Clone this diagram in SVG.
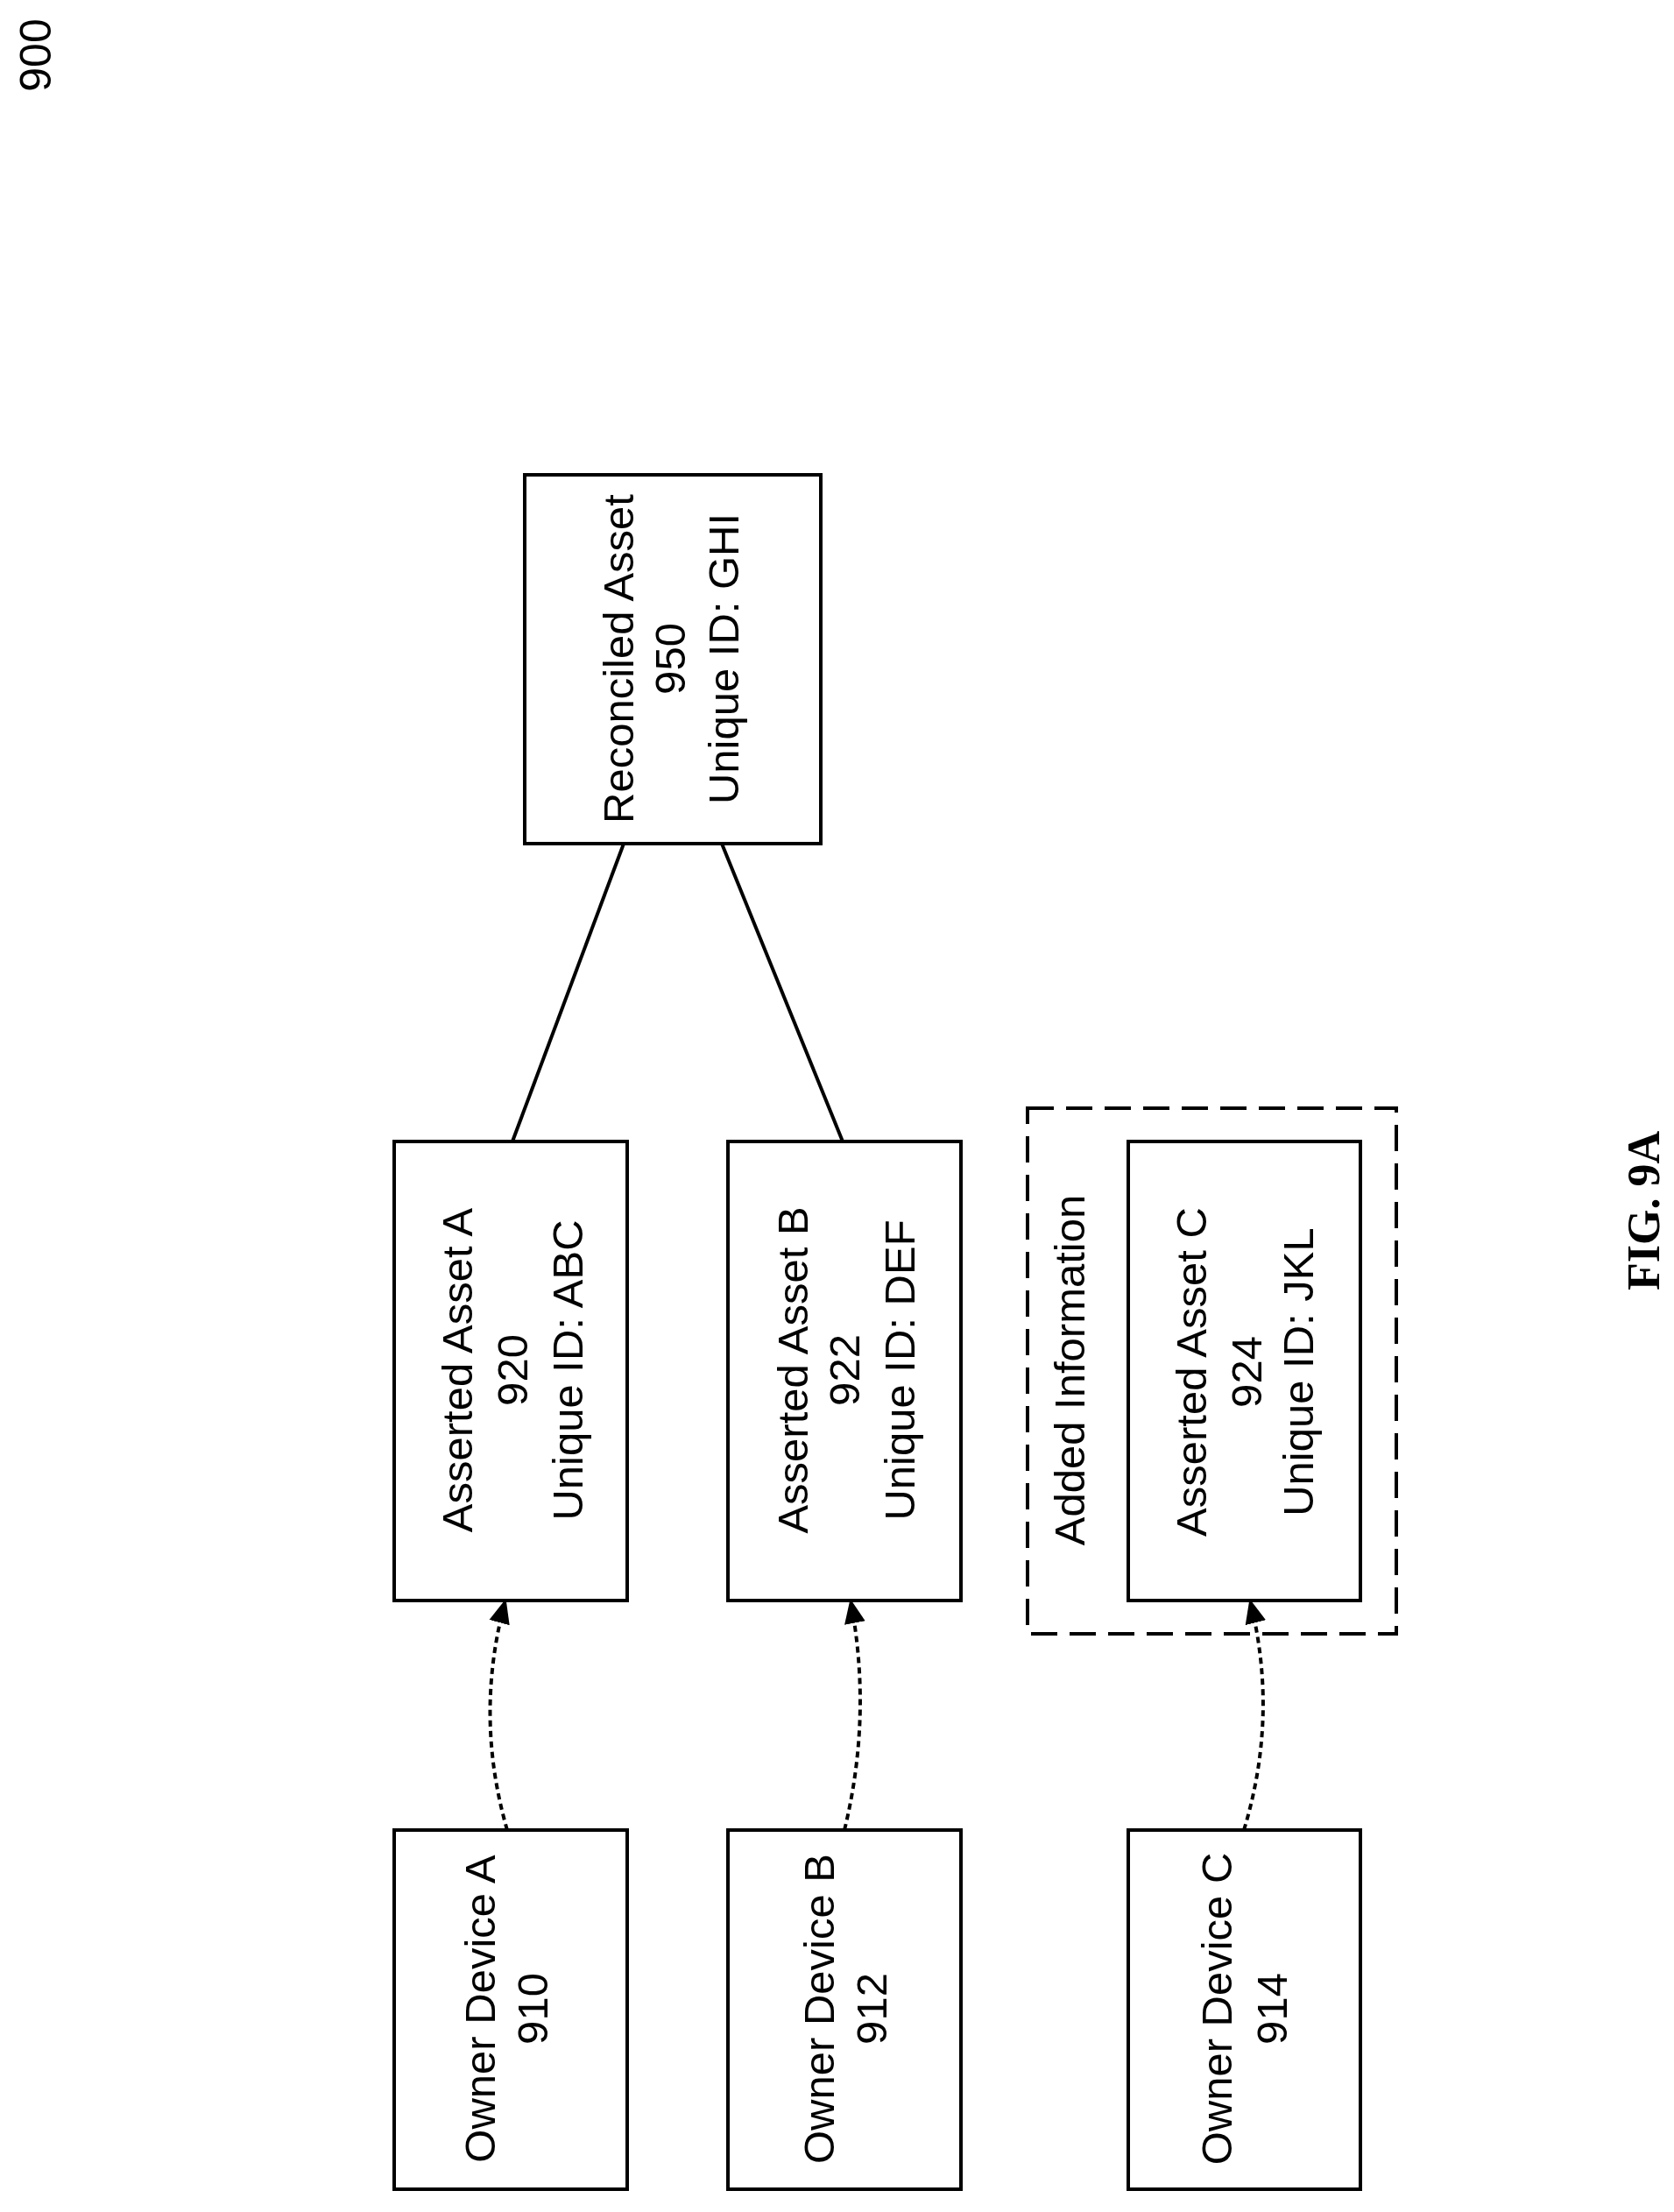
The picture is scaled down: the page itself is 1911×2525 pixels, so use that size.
<svg xmlns="http://www.w3.org/2000/svg" width="1911" height="2525" viewBox="0 0 1911 2525">
<style>
.box{fill:#fff;stroke:#000;stroke-width:4}
.t{font-family:"Liberation Sans",Arial,sans-serif;font-size:49px;text-anchor:middle;fill:#000}
.ln{stroke:#000;stroke-width:4;fill:none}
.dot{stroke:#000;stroke-width:4;fill:none;stroke-dasharray:7,5}
</style>
<defs>
<marker id="ah2" markerWidth="28" markerHeight="28" refX="26" refY="14" orient="auto" markerUnits="userSpaceOnUse" viewBox="0 0 28 28">
<path d="M0,2 L28,14 L0,26 z" fill="#000"/>
</marker>
</defs>
<text class="t" transform="translate(58,63) rotate(-90)" style="font-size:50px">900</text>
<g id="connectors">
<line class="ln" x1="712" y1="963" x2="585" y2="1303"/>
<line class="ln" x1="824" y1="963" x2="962" y2="1303"/>
<path class="dot" d="M579,2089 Q541,1958 577,1827" marker-end="url(#ah2)"/>
<path class="dot" d="M964,2089 Q996,1958 971,1827" marker-end="url(#ah2)"/>
<path class="dot" d="M1420,2089 Q1460,1958 1427,1827" marker-end="url(#ah2)"/>
</g>
<g id="n950">
<rect class="box" x="599" y="542" width="338" height="421"/>
<text class="t" transform="translate(723,752) rotate(-90)">Reconciled Asset</text>
<text class="t" transform="translate(782,752) rotate(-90)">950</text>
<text class="t" transform="translate(843,752) rotate(-90)">Unique ID: GHI</text>
</g>
<g id="n920">
<rect class="box" x="450" y="1303" width="266" height="524"/>
<text class="t" transform="translate(539,1564) rotate(-90)">Asserted Asset A</text>
<text class="t" transform="translate(602,1564) rotate(-90)">920</text>
<text class="t" transform="translate(665,1564) rotate(-90)">Unique ID: ABC</text>
</g>
<g id="n922">
<rect class="box" x="831" y="1303" width="266" height="524"/>
<text class="t" transform="translate(922,1564) rotate(-90)">Asserted Asset B</text>
<text class="t" transform="translate(981,1564) rotate(-90)">922</text>
<text class="t" transform="translate(1044,1564) rotate(-90)">Unique ID: DEF</text>
</g>
<g id="added">
<rect x="1173" y="1265" width="421" height="600" fill="none" stroke="#000" stroke-width="4" stroke-dasharray="30,14"/>
<text class="t" transform="translate(1238,1564) rotate(-90)">Added Information</text>
</g>
<g id="n924">
<rect class="box" x="1288" y="1303" width="265" height="524"/>
<text class="t" transform="translate(1377,1566) rotate(-90)">Asserted Asset C</text>
<text class="t" transform="translate(1440,1566) rotate(-90)">924</text>
<text class="t" transform="translate(1499,1566) rotate(-90)">Unique ID: JKL</text>
</g>
<g id="n910">
<rect class="box" x="450" y="2089" width="266" height="410"/>
<text class="t" transform="translate(565,2293) rotate(-90)">Owner Device A</text>
<text class="t" transform="translate(625,2293) rotate(-90)">910</text>
</g>
<g id="n912">
<rect class="box" x="831" y="2089" width="266" height="410"/>
<text class="t" transform="translate(952,2293) rotate(-90)">Owner Device B</text>
<text class="t" transform="translate(1012,2293) rotate(-90)">912</text>
</g>
<g id="n914">
<rect class="box" x="1288" y="2089" width="265" height="410"/>
<text class="t" transform="translate(1406,2293) rotate(-90)">Owner Device C</text>
<text class="t" transform="translate(1469,2293) rotate(-90)">914</text>
</g>
<text transform="translate(1894,1382) rotate(-90)" style="font-family:'Liberation Serif','Times New Roman',serif;font-weight:bold;font-size:52px;text-anchor:middle">FIG. 9A</text>
</svg>
